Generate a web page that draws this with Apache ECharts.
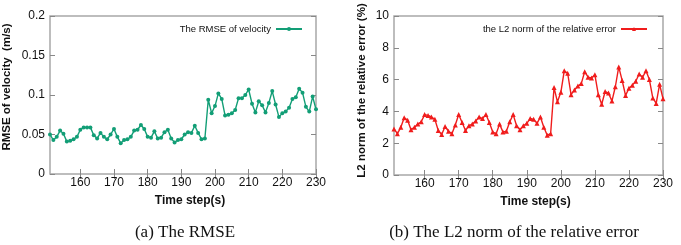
<!DOCTYPE html>
<html>
<head>
<meta charset="utf-8">
<script src="https://cdn.jsdelivr.net/npm/echarts@6/dist/echarts.min.js"></script>
<style>
html,body{margin:0;padding:0;background:#fff;}
#c{width:681px;height:245px;}
</style>
</head>
<body>
<div id="c"></div>
<script>
const steps = [151,152,153,154,155,156,157,158,159,160,
  161,162,163,164,165,166,167,168,169,170,
  171,172,173,174,175,176,177,178,179,180,
  181,182,183,184,185,186,187,188,189,190,
  191,192,193,194,195,196,197,198,199,200,
  201,202,203,204,205,206,207,208,209,210,
  211,212,213,214,215,216,217,218,219,220,
  221,222,223,224,225,226,227,228,229,230];
const rmseVelocity = [0.050,0.043,0.047,0.055,0.051,0.041,0.042,0.044,0.047,0.056,
  0.059,0.059,0.059,0.049,0.045,0.052,0.047,0.044,0.050,0.057,
  0.047,0.039,0.043,0.044,0.047,0.055,0.056,0.062,0.057,0.047,
  0.046,0.054,0.045,0.046,0.053,0.056,0.045,0.040,0.043,0.044,
  0.050,0.053,0.052,0.061,0.052,0.044,0.045,0.094,0.077,0.086,
  0.102,0.095,0.074,0.075,0.077,0.081,0.096,0.096,0.100,0.107,
  0.089,0.078,0.092,0.087,0.078,0.090,0.105,0.088,0.072,0.077,
  0.079,0.084,0.095,0.097,0.108,0.103,0.085,0.079,0.098,0.082];
const l2RelError = [2.9,2.6,3.0,3.6,3.45,2.85,3.0,3.2,3.35,3.8,
  3.75,3.65,3.5,2.8,2.55,3.05,2.75,2.6,3.15,3.8,
  3.3,2.8,3.1,3.2,3.4,3.65,3.55,3.8,3.3,2.7,
  2.6,3.2,2.7,2.75,3.35,3.8,3.1,2.85,3.1,3.25,
  3.55,3.5,3.25,3.65,3.0,2.5,2.6,5.5,4.6,5.2,
  6.55,6.4,5.05,5.35,5.6,5.75,6.5,6.15,6.1,6.3,
  5.05,4.45,5.25,5.15,4.65,5.55,6.8,5.95,5.0,5.45,
  5.65,5.9,6.35,6.15,6.55,6.0,4.85,4.5,5.7,4.8];
const xTicks = [160,170,180,190,200,210,220,230];
const xMin = 151, xMax = 230;
const nameA = 'The RMSE of velocity';
const nameB = 'the L2 norm of the relative error';
const captions = ['(a) The RMSE', '(b) The L2 norm of the relative error'];

const FONT = 'Liberation Sans';
const tickStyle = {show:true, inside:true, length:5, lineStyle:{color:'#888', width:1}};
function xAxes(gi){
  return [
    {type:'value', gridIndex:gi, min:xMin, max:xMax, position:'bottom',
     name:'Time step(s)', nameLocation:'middle', nameGap:21,
     nameTextStyle:{fontFamily:FONT, fontSize:12, fontWeight:'bold', color:'#111', padding:[0,0,0,14]},
     axisLine:{show:false}, splitLine:{show:false},
     axisTick:Object.assign({customValues:xTicks}, tickStyle),
     axisLabel:{customValues:xTicks, fontFamily:FONT, fontSize:12, color:'#111', margin:3}},
    {type:'value', gridIndex:gi, min:xMin, max:xMax, position:'top',
     axisLine:{show:false}, splitLine:{show:false},
     axisTick:Object.assign({customValues:xTicks}, tickStyle),
     axisLabel:{show:false}}
  ];
}
function yAxes(gi, max, interval, name, gap, shift){
  return [
    {type:'value', gridIndex:gi, min:0, max:max, interval:interval, position:'left',
     name:name, nameLocation:'middle', nameGap:gap,
     nameTextStyle:{fontFamily:FONT, fontSize:11.5, fontWeight:'bold', color:'#111', padding:[0,0,0,shift]},
     axisLine:{show:false}, splitLine:{show:false},
     axisTick:tickStyle,
     axisLabel:{fontFamily:FONT, fontSize:12, color:'#111', margin:5}},
    {type:'value', gridIndex:gi, min:0, max:max, interval:interval, position:'right',
     axisLine:{show:false}, splitLine:{show:false},
     axisTick:tickStyle, axisLabel:{show:false}}
  ];
}
const chart = echarts.init(document.getElementById('c'), null, {renderer:'canvas'});
chart.setOption({
  animation:false,
  backgroundColor:'#fff',
  grid:[
    {left:48, right:365, top:16, bottom:71, show:true, borderColor:'#a8a8a8', borderWidth:1.5, backgroundColor:'transparent'},
    {left:394, right:18, top:16, bottom:70, show:true, borderColor:'#a8a8a8', borderWidth:1.5, backgroundColor:'transparent'}
  ],
  xAxis:[...xAxes(0), ...xAxes(1)],
  yAxis:[...yAxes(0, 0.2, 0.05, 'RMSE of velocity  (m/s)', 37, 16), ...yAxes(1, 10, 2, 'L2 norm of the relative error (%)', 26, 10)],
  legend:[
    {data:[nameA], right:373, top:19, align:'right', itemWidth:26, itemHeight:5, itemGap:5,
     textStyle:{fontFamily:FONT, fontSize:9.5, color:'#111'}},
    {data:[nameB], right:28, top:19, align:'right', itemWidth:26, itemHeight:5, itemGap:5,
     textStyle:{fontFamily:FONT, fontSize:9.5, color:'#111'}}
  ],
  graphic:[
    {type:'text', x:185, y:224, style:{text:captions[0], font:'17px "Liberation Serif"', fill:'#111', align:'center'}},
    {type:'text', x:514, y:224, style:{text:captions[1], font:'17px "Liberation Serif"', fill:'#111', align:'center'}}
  ],
  series:[
    {name:nameA, type:'line', xAxisIndex:0, yAxisIndex:0,
     data:steps.map((s,i)=>[s, rmseVelocity[i]]),
     symbol:'circle', symbolSize:4, showAllSymbol:true,
     lineStyle:{color:'#129e76', width:1.4}, itemStyle:{color:'#129e76'}},
    {name:nameB, type:'line', xAxisIndex:2, yAxisIndex:2,
     data:steps.map((s,i)=>[s, l2RelError[i]]),
     symbol:'triangle', symbolSize:5, showAllSymbol:true,
     lineStyle:{color:'#f01c1c', width:1.4}, itemStyle:{color:'#f01c1c'}}
  ]
});
</script>
</body>
</html>
